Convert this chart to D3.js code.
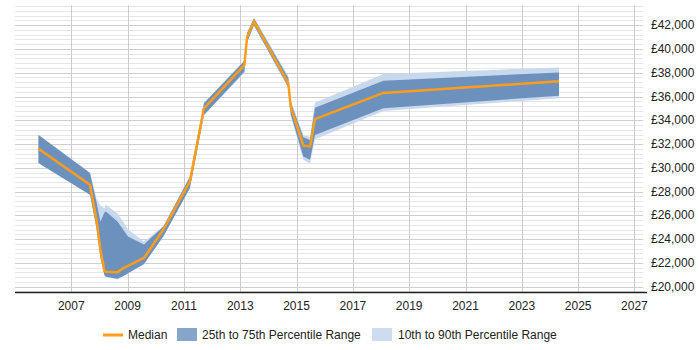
<!DOCTYPE html>
<html>
<head>
<meta charset="utf-8">
<script src="https://cdn.jsdelivr.net/npm/d3@7"></script>
<style>
  body { margin: 0; background: #fff; }
  text { font-family: "Liberation Sans", Arial, sans-serif; font-size: 12px; fill: #222; }
</style>
</head>
<body>
<svg id="chart" width="700" height="350"></svg>
<script>
// sample dates
var dates = ["2005-11-01", "2007-09-01", "2007-11-23", "2008-01-14", "2008-03-06", "2008-03-26",
  "2008-08-22", "2008-10-26", "2009-01-05", "2009-08-01", "2010-04-10", "2011-03-20",
  "2011-09-18", "2013-02-23", "2013-03-30", "2013-06-28", "2014-09-16", "2014-10-17",
  "2015-03-30", "2015-06-25", "2015-08-28", "2018-01-31", "2024-04-28"];

var median = [31600, 28580, 25640, 23130, 21330, 21260, 21220, 21510, 21740, 22420, 24810, 28860,
  35010, 38640, 40970, 42340, 37110, 35150, 31880, 31790, 34090, 36300, 37280];
var p75 = [32770, 29560, 27150, 25480, 26230, 26320, 25480, 24890, 24220, 23550, 25060, 29250,
  35430, 38980, 41330, 42560, 37550, 35540, 32580, 32350, 35060, 37330, 38030];
var p25 = [30400, 27740, 24970, 22460, 20950, 20840, 20670, 20860, 21120, 21910, 24240, 28300,
  34450, 38080, 40570, 42000, 36800, 34530, 30950, 30680, 32770, 35010, 36070];
var p90 = [32800, 29580, 27410, 26820, 26570, 26900, 26150, 25560, 24810, 23800, 25080, 29280,
  35480, 39050, 41400, 42650, 37720, 35700, 32770, 32610, 35480, 37890, 38450];
var p10 = [30380, 27720, 24950, 22440, 20930, 20820, 20600, 20840, 21100, 21890, 24220, 28280,
  34420, 38030, 40520, 41950, 36700, 34370, 30680, 30340, 32410, 34790, 35850];

var yearTicks = [2007, 2009, 2011, 2013, 2015, 2017, 2019, 2021, 2023, 2025, 2027];
var salaryTicks = [20000, 22000, 24000, 26000, 28000, 30000, 32000, 34000, 36000, 38000, 40000, 42000];

var svg = d3.select("#chart");
var plotLeft = 15, plotRight = 645, plotTop = 5, plotBottom = 292;

var parse = d3.timeParse("%Y-%m-%d");
var rows = dates.map(function (d, i) {
  return { date: parse(d), med: median[i], lo: p25[i], hi: p75[i], lo2: p10[i], hi2: p90[i] };
});

var x = d3.scaleTime()
  .domain([new Date(2005, 0, 1), new Date(2027, 4, 18)])
  .range([plotLeft, plotRight]);
var y = d3.scaleLinear()
  .domain([19550, 43700])
  .range([plotBottom, plotTop]);

// minor horizontal grid
var minor = d3.range(19600, 43700, 400).filter(function (v) { return v % 2000 != 0; });
svg.append("g").selectAll("line").data(minor).enter().append("line")
  .attr("x1", plotLeft).attr("x2", plotRight - 2)
  .attr("y1", function (d) { return Math.round(y(d)) + 0.5; })
  .attr("y2", function (d) { return Math.round(y(d)) + 0.5; })
  .attr("stroke", "#e6e6e6");

// major horizontal grid
svg.append("g").selectAll("line").data(salaryTicks).enter().append("line")
  .attr("x1", plotLeft).attr("x2", plotRight - 2)
  .attr("y1", function (d) { return Math.round(y(d)) + 0.5; })
  .attr("y2", function (d) { return Math.round(y(d)) + 0.5; })
  .attr("stroke", "#cfcfcf");

// vertical grid
svg.append("g").selectAll("line").data(yearTicks).enter().append("line")
  .attr("x1", function (d) { return Math.round(x(new Date(d, 0, 1))) + 0.5; })
  .attr("x2", function (d) { return Math.round(x(new Date(d, 0, 1))) + 0.5; })
  .attr("y1", plotTop).attr("y2", plotBottom)
  .attr("stroke", "#cccccc");

// 10th-90th
svg.append("path").datum(rows)
  .attr("fill", "#c8d9ed")
  .attr("d", d3.area()
    .x(function (d) { return x(d.date); })
    .y0(function (d) { return y(d.lo2); })
    .y1(function (d) { return y(d.hi2); }));

// 25th-75th
svg.append("path").datum(rows)
  .attr("fill", "#6d91bd")
  .attr("d", d3.area()
    .x(function (d) { return x(d.date); })
    .y0(function (d) { return y(d.lo); })
    .y1(function (d) { return y(d.hi); }));

// median
svg.append("path").datum(rows)
  .attr("fill", "none")
  .attr("stroke", "#ff9c1a")
  .attr("stroke-width", 2.5)
  .attr("stroke-linejoin", "round")
  .attr("d", d3.line()
    .x(function (d) { return x(d.date); })
    .y(function (d) { return y(d.med); }));

// x axis
svg.append("line")
  .attr("x1", plotLeft).attr("x2", plotRight + 2)
  .attr("y1", plotBottom + 0.5).attr("y2", plotBottom + 0.5)
  .attr("stroke", "#222").attr("stroke-width", 1.5);

svg.append("g").selectAll("text").data(yearTicks).enter().append("text")
  .attr("x", function (d) { return x(new Date(d, 0, 1)); })
  .attr("y", 310)
  .attr("text-anchor", "middle")
  .text(function (d) { return d; });

var fmt = d3.format(",");
svg.append("g").selectAll("text").data(salaryTicks).enter().append("text")
  .attr("x", 651)
  .attr("y", function (d) { return y(d) + 4; })
  .text(function (d) { return "£" + fmt(d); });

// legend
var lg = svg.append("g");
lg.append("line").attr("x1", 103).attr("x2", 123).attr("y1", 335).attr("y2", 335)
  .attr("stroke", "#ff9c1a").attr("stroke-width", 3);
lg.append("text").attr("x", 128).attr("y", 339).text("Median");
lg.append("rect").attr("x", 177).attr("y", 328).attr("width", 20).attr("height", 13).attr("fill", "#87a5c8");
lg.append("text").attr("x", 202).attr("y", 339).text("25th to 75th Percentile Range");
lg.append("rect").attr("x", 372).attr("y", 328).attr("width", 20).attr("height", 13).attr("fill", "#cddcee");
lg.append("text").attr("x", 398).attr("y", 339).text("10th to 90th Percentile Range");
</script>
</body>
</html>
